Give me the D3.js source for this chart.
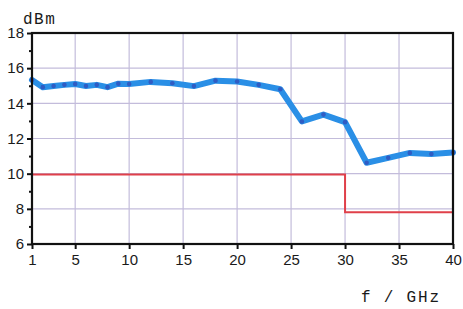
<!DOCTYPE html>
<html>
<head>
<meta charset="utf-8">
<script src="https://cdn.jsdelivr.net/npm/d3@7"></script>
<style>
  body { margin: 0; background: #fff; }
  svg { display: block; }
</style>
</head>
<body>
<svg id="chart" width="463" height="309"></svg>
<script>
// measured output power
const freq = [1, 2, 3, 4, 5, 6, 7, 8, 9, 10, 12, 14, 16, 18, 20, 22, 24, 26, 28, 30, 32, 34, 36, 38, 40]
const power = [15.33, 14.92, 14.99, 15.05, 15.1, 14.99, 15.05, 14.92, 15.12, 15.1, 15.22, 15.14, 14.98, 15.29, 15.24, 15.05, 14.8, 12.97, 13.36, 12.93, 10.62, 10.9, 11.18, 11.12, 11.2]
// spec limit
const limitFreq = [1, 30, 30, 40]
const limitVal = [9.95, 9.95, 7.8, 7.8]

const xTicks = [1, 5, 10, 15, 20, 25, 30, 35, 40]
const yTicks = [6, 8, 10, 12, 14, 16, 18]

const svg = d3.select('#chart')
const m = { left: 32, top: 33, right: 10, bottom: 65 }
const w = 463 - m.left - m.right
const h = 309 - m.top - m.bottom

const x = d3.scaleLinear().domain([1, 40]).range([m.left, m.left + w])
const y = d3.scaleLinear().domain([6, 18]).range([m.top + h, m.top])

// grid
const grid = svg.append('g').attr('stroke', '#c3bcdb').attr('stroke-width', 1.2)
grid.selectAll('line.v')
  .data(xTicks.slice(1, -1))
  .enter().append('line')
  .attr('x1', d => x(d)).attr('x2', d => x(d))
  .attr('y1', y(18)).attr('y2', y(6))
grid.selectAll('line.h')
  .data(yTicks.slice(1, -1))
  .enter().append('line')
  .attr('x1', x(1)).attr('x2', x(40))
  .attr('y1', d => y(d)).attr('y2', d => y(d))

// limit line
svg.append('path')
  .datum(limitFreq.map((f, i) => [f, limitVal[i]]))
  .attr('fill', 'none')
  .attr('stroke', '#e0404a')
  .attr('stroke-width', 2)
  .attr('d', d3.line().x(d => x(d[0])).y(d => y(d[1])))

// data line
const pts = freq.map((f, i) => [f, power[i]])
svg.append('path')
  .datum(pts)
  .attr('fill', 'none')
  .attr('stroke', '#2a8fe6')
  .attr('stroke-width', 6)
  .attr('stroke-linejoin', 'round')
  .attr('stroke-linecap', 'round')
  .attr('d', d3.line().x(d => x(d[0])).y(d => y(d[1])))
svg.selectAll('circle.pt')
  .data(pts)
  .enter().append('circle')
  .attr('cx', d => x(d[0]))
  .attr('cy', d => y(d[1]))
  .attr('r', 2.3)
  .attr('fill', '#2f5cc4')

// frame
svg.append('rect')
  .attr('x', x(1)).attr('y', y(18))
  .attr('width', x(40) - x(1)).attr('height', y(6) - y(18))
  .attr('fill', 'none')
  .attr('stroke', '#111')
  .attr('stroke-width', 2.2)

// axes
const xAxis = d3.axisBottom(x).tickValues(xTicks).tickSize(5).tickPadding(5)
const gx = svg.append('g').attr('transform', `translate(0,${y(6)})`).call(xAxis)
const yAxis = d3.axisLeft(y).tickValues(yTicks).tickSize(5).tickPadding(3)
const gy = svg.append('g').attr('transform', `translate(${x(1)},0)`).call(yAxis)
const yMinor = d3.axisLeft(y).tickValues([7, 9, 11, 13, 15, 17]).tickSize(3).tickFormat('')
svg.append('g').attr('transform', `translate(${x(1)},0)`).call(yMinor)
  .call(g => g.select('.domain').remove())
  .selectAll('line').attr('stroke', '#111').attr('stroke-width', 2)

;[gx, gy].forEach(g => {
  g.select('.domain').remove()
  g.selectAll('line').attr('stroke', '#111').attr('stroke-width', 2)
  g.selectAll('text')
    .attr('fill', '#1a1a1a')
    .style('font-family', 'Liberation Sans, Arial, sans-serif')
    .style('font-size', '15px')
})

// unit labels
svg.append('text')
  .attr('x', 23).attr('y', 24)
  .style('font-family', 'Liberation Mono, Courier New, monospace')
  .style('font-size', '16px')
  .style('letter-spacing', '1.5px')
  .attr('fill', '#1a1a1a')
  .text('dBm')
svg.append('text')
  .attr('x', 361).attr('y', 302)
  .style('font-family', 'Liberation Mono, Courier New, monospace')
  .style('font-size', '16px')
  .style('letter-spacing', '1.8px')
  .attr('fill', '#1a1a1a')
  .text('f / GHz')
</script>
</body>
</html>
